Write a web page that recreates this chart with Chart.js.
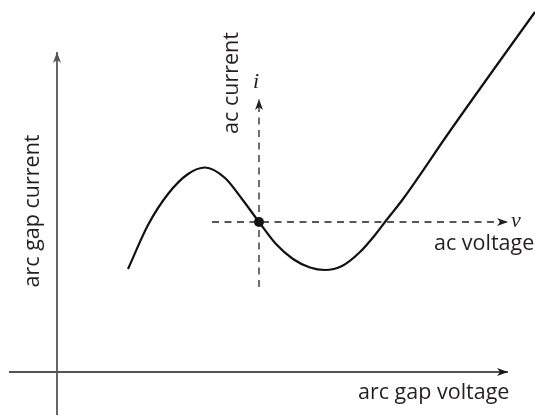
<!DOCTYPE html>
<html>
<head>
<meta charset="utf-8">
<script src="https://cdn.jsdelivr.net/npm/chart.js@4"></script>
<style>
  html, body { margin: 0; padding: 0; background: #fff; }
  #wrap { width: 535px; height: 415px; }
</style>
</head>
<body>
<div id="wrap"><canvas id="grafico" width="535" height="415"></canvas></div>
<script>
// arc characteristic (arc gap voltage vs arc gap current), arbitrary units
const curveV = [7.1, 9.1, 11.1, 13.1, 14.8, 16.8, 18.5, 20.2, 21.9, 23.6, 25.3, 26.8, 28.5, 30.3, 31.8, 32.8, 34.6, 39.3, 47.8, 48.6];
const curveI = [10.3, 14.7, 17.8, 19.8, 20.45, 19.4, 17.3, 15.0, 12.8, 11.3, 10.45, 10.2, 10.6, 12.0, 13.7, 15.0, 17.3, 24.1, 36.0, 37.1];

// operating point (origin of the small-signal ac axes)
const pontoV = [20.2];
const pontoI = [15.0];

// arc gap axes
const eixoHorizV = [-4.8, 45.1];
const eixoHorizI = [0, 0];
const eixoVertV = [0, 0];
const eixoVertI = [-4.5, 32.0];

// ac axes (dashed)
const acVoltV = [15.5, 45.1];
const acVoltI = [15.0, 15.0];
const acCurrV = [20.2, 20.2];
const acCurrI = [8.5, 27.3];

const toPts = (xs, ys) => xs.map((x, k) => ({ x: x, y: ys[k] }));

const COR = '#231f20';
const FONTE = '21.5px "Open Sans"';

// texts of the figure
const rotulos = [
  { text: 'arc gap current', v: -2.4, i: 16.1, rot: true, font: FONTE, align: 'center', base: 'middle' },
  { text: 'ac current', v: 17.5, i: 28.9, rot: true, font: FONTE, align: 'center', base: 'middle' },
  { text: 'i', v: 19.9, i: 29.0, font: 'italic 22px "Liberation Serif"', align: 'center', base: 'middle' },
  { text: 'v', v: 45.9, i: 15.1, font: 'italic 22px "Liberation Serif"', align: 'center', base: 'middle' },
  { text: 'ac voltage', v: 37.7, i: 12.2, font: FONTE, align: 'left', base: 'alphabetic' },
  { text: 'arc gap voltage', v: 30.1, i: -2.7, font: FONTE, align: 'left', base: 'alphabetic' }
];

// arrowheads at the end of datasets marked with "seta"
const setasPlugin = {
  id: 'setas',
  afterDatasetsDraw(chart) {
    const c = chart.ctx;
    const sx = chart.scales.x, sy = chart.scales.y;
    chart.data.datasets.forEach(ds => {
      if (!ds.seta) return;
      const n = ds.data.length;
      const x1 = sx.getPixelForValue(ds.data[n - 1].x), y1 = sy.getPixelForValue(ds.data[n - 1].y);
      const x0 = sx.getPixelForValue(ds.data[n - 2].x), y0 = sy.getPixelForValue(ds.data[n - 2].y);
      const a = Math.atan2(y1 - y0, x1 - x0);
      const L = 11, W = 4;
      c.save();
      c.translate(x1, y1);
      c.rotate(a);
      c.fillStyle = ds.borderColor;
      c.beginPath();
      c.moveTo(0, 0);
      c.lineTo(-L, -W);
      c.lineTo(-L * 0.72, 0);
      c.lineTo(-L, W);
      c.closePath();
      c.fill();
      c.restore();
    });
  },
  afterDraw(chart) {
    const c = chart.ctx;
    const sx = chart.scales.x, sy = chart.scales.y;
    c.save();
    c.fillStyle = COR;
    rotulos.forEach(r => {
      const px = sx.getPixelForValue(r.v), py = sy.getPixelForValue(r.i);
      c.save();
      c.font = r.font;
      c.textAlign = r.align;
      c.textBaseline = r.base;
      c.translate(px, py);
      if (r.rot) c.rotate(-Math.PI / 2);
      c.fillText(r.text, 0, 0);
      c.restore();
    });
    c.restore();
  }
};

const linha = (pts, extra) => Object.assign({
  data: pts,
  showLine: true,
  pointRadius: 0,
  borderColor: COR,
  borderWidth: 1.4,
  fill: false
}, extra);

new Chart(document.getElementById('grafico'), {
  type: 'scatter',
  data: {
    datasets: [
      linha(toPts(eixoVertV, eixoVertI), { borderColor: '#555', borderWidth: 1.8, seta: true }),
      linha(toPts(eixoHorizV, eixoHorizI), { borderColor: '#1a1a1a', borderWidth: 1.5, seta: true }),
      linha(toPts(acVoltV, acVoltI), { borderDash: [7, 5.5], borderWidth: 1.3, seta: true }),
      linha(toPts(acCurrV, acCurrI), { borderDash: [7, 5.5], borderWidth: 1.3, seta: true }),
      linha(toPts(curveV, curveI), { borderColor: '#111', borderWidth: 2.2, cubicInterpolationMode: 'monotone' }),
      { data: toPts(pontoV, pontoI), pointRadius: 5, pointBackgroundColor: '#111', pointBorderWidth: 0, showLine: false }
    ]
  },
  options: {
    responsive: false,
    animation: false,
    layout: { padding: 0, autoPadding: false },
    plugins: { legend: { display: false }, tooltip: { enabled: false } },
    scales: {
      x: { type: 'linear', display: false, min: -5.7, max: 47.8 },
      y: { type: 'linear', display: false, min: -4.3, max: 37.2 }
    }
  },
  plugins: [setasPlugin]
});
</script>
</body>
</html>
